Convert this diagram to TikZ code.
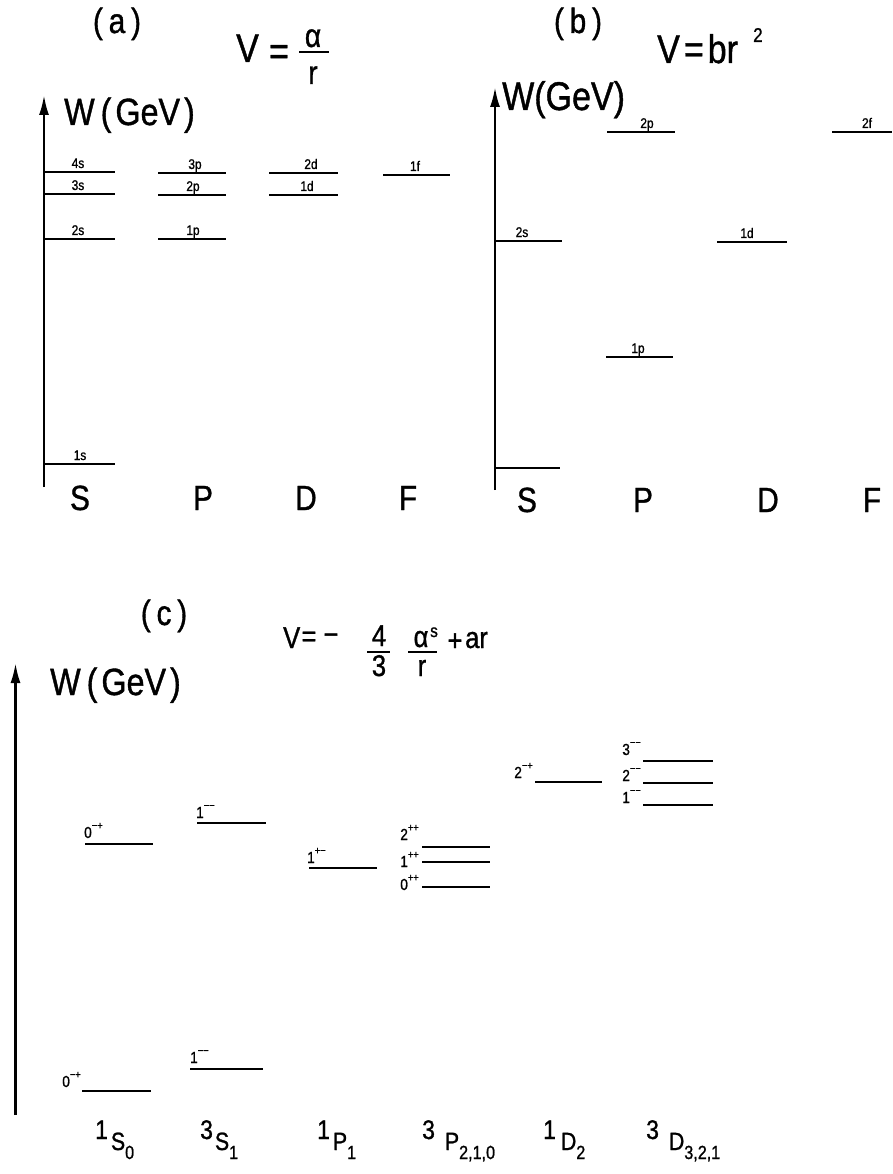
\documentclass[tikz,border=0pt]{standalone}
\usepackage{fontspec}
\setmainfont{Liberation Sans}[FakeStretch=0.85,FakeBold=1]
\usetikzlibrary{arrows.meta}
\newcommand\fsz[1]{\fontsize{#1}{#1}\selectfont}
% quantum-number label: digit with raised parity signs
\newcommand\qn[2]{#1\raisebox{0.55em}{\fsz{11}#2}}
% spectroscopic label: raised multiplicity, letter, lowered subscript
\newcommand\spec[4]{\raisebox{11pt}{\fsz{27}#1}\hspace{#4}{\fsz{25}#2}\raisebox{-9pt}{\fsz{19}#3}}
\newcommand\lev[6]{%
  \draw[level] (#2,#4) -- (#3,#4);
  \node[lab,anchor=base] (#1) at (#5,#4-4) {#6};}
\newcommand\levq[6]{%
  \draw[level] (#2,#4) -- (#3,#4);
  \node[qlab,#5] (#1) {#6};}
\begin{document}
\begin{tikzpicture}[x=1pt,y=-1pt,
  level/.style={line width=2.3pt},
  axis/.style={line width=2.5pt,-{Latex[length=20pt,width=10pt]}},
  lab/.style={inner sep=0pt,font=\fsz{14}},
  qlab/.style={inner sep=0pt,font=\fsz{16}},
  title/.style={inner sep=0pt,font=\fsz{35},anchor=base},
  wlab/.style={inner sep=0pt,font=\fsz{38},anchor=base west},
  form/.style={inner sep=0pt,font=\fsz{40}},
  formc/.style={inner sep=0pt,font=\fsz{30}},
  col/.style={inner sep=0pt,font=\fsz{35},anchor=base},
  bar/.style={line width=2pt}]
\useasboundingbox (0,0) rectangle (892,1174);

% ================= panel (a) =================
\node[title] (ta) at (117,33) {(\,a\,)};
\node[form,anchor=base west] (aV) at (236,62) {V};
\node[form,anchor=center] (aeq) at (279,55) {=};
\node[form,anchor=base,font=\fsz{33}] (aal) at (313,47) {α};
\coordinate (abarL) at (299,52); \coordinate (abarR) at (329,52);
\draw[bar] (abarL) -- (abarR);
\node[form,anchor=base,font=\fsz{33}] (ar) at (313,84) {r};
\coordinate (aaxB) at (44,487); \coordinate (aaxT) at (44,95);
\draw[axis] (aaxB) -- (aaxT);
\node[wlab] (aW) at (64,125) {W\hspace{6pt}(\hspace{4pt}GeV\hspace{4pt})};
\lev{a4s}{44}{115}{172}{78}{4s}
\lev{a3s}{44}{115}{194}{78}{3s}
\lev{a2s}{44}{115}{239}{78}{2s}
\lev{a1s}{44}{115}{464}{80}{1s}
\lev{a3p}{158}{226}{173}{195}{3p}
\lev{a2p}{158}{226}{195}{193}{2p}
\lev{a1p}{158}{226}{239}{193}{1p}
\lev{a2d}{269}{338}{173}{311}{2d}
\lev{a1d}{269}{338}{195}{307}{1d}
\lev{a1f}{383}{450}{175}{415}{1f}
\node[col] (aS) at (80,510) {S};
\node[col] (aP) at (203,510) {P};
\node[col] (aD) at (306,510) {D};
\node[col] (aF) at (408,510) {F};

% ================= panel (b) =================
\node[title] (tb) at (578,33) {(\,b\,)};
\node[form,anchor=base west] (bV) at (657,63) {V\hspace{4pt}=\hspace{4pt}br};
\node[inner sep=0pt,font=\fsz{20},anchor=base west] (b2) at (753,42) {2};
\coordinate (baxB) at (495,490); \coordinate (baxT) at (495,87);
\draw[axis] (baxB) -- (baxT);
\node[wlab,font=\fsz{40}] (bW) at (502,110) {W(GeV)};
\lev{b2p}{607}{675}{132}{647}{2p}
\lev{b2f}{832}{892}{132}{867}{2f}
\lev{b2s}{495}{562}{241}{522}{2s}
\lev{b1d}{717}{787}{242}{747}{1d}
\lev{b1p}{606}{673}{357}{638}{1p}
\coordinate (b1sL) at (495,468); \coordinate (b1sR) at (560,468);
\draw[level] (b1sL) -- (b1sR);
\node[col] (bS) at (527,512) {S};
\node[col] (bP) at (643,512) {P};
\node[col] (bD) at (768,512) {D};
\node[col] (bF) at (872,512) {F};

% ================= panel (c) =================
\node[title] (tc) at (164,625) {(\,c\,)};
\node[formc,anchor=base west] (cV) at (283,648) {V};
\node[formc,anchor=center] (ceq) at (309,639) {=};
\node[formc,anchor=center] (cmi) at (331,639) {−};
\node[formc,anchor=base] (c4) at (379,646) {4};
\coordinate (cb1L) at (367,652); \coordinate (cb1R) at (390,652);
\draw[bar] (cb1L) -- (cb1R);
\node[formc,anchor=base] (c3) at (379,676) {3};
\node[formc,anchor=base] (cal) at (421,647) {α};
\node[inner sep=0pt,font=\fsz{18},anchor=base west] (cs) at (430,637) {s};
\coordinate (cb2L) at (408,652); \coordinate (cb2R) at (437,652);
\draw[bar] (cb2L) -- (cb2R);
\node[formc,anchor=base] (cr) at (422,676) {r};
\node[formc,anchor=center] (cpl) at (455,642) {+};
\node[formc,anchor=base west] (car) at (465,648) {ar};
\coordinate (caxB) at (15.5,1115); \coordinate (caxT) at (15.5,663);
\draw[axis] (caxB) -- (caxT);
\node[wlab] (cW) at (50,695) {W\hspace{6pt}(\hspace{4pt}GeV\hspace{4pt})};

\levq{c0a}{85}{153}{844}{anchor=base west,at={(84,838)}}{\qn{0}{−+}}
\levq{c1a}{197}{266}{823}{anchor=base west,at={(196,818)}}{\qn{1}{−−}}
\levq{c1b}{309}{377}{868}{anchor=base west,at={(307,863)}}{\qn{1}{+−}}
\levq{c2p}{422}{490}{847}{anchor=base east,at={(419,840)}}{\qn{2}{++}}
\levq{c1p}{422}{490}{862}{anchor=base east,at={(419,867)}}{\qn{1}{++}}
\levq{c0p}{422}{490}{887}{anchor=base east,at={(419,890)}}{\qn{0}{++}}
\levq{c2m}{535}{602}{782}{anchor=base east,at={(533,778)}}{\qn{2}{−+}}
\levq{c3d}{643}{713}{761}{anchor=base east,at={(641,755)}}{\qn{3}{−−}}
\levq{c2d}{643}{713}{783}{anchor=base east,at={(641,781)}}{\qn{2}{−−}}
\levq{c1d}{643}{713}{805}{anchor=base east,at={(641,803)}}{\qn{1}{−−}}
\levq{c0l}{82}{151}{1091}{anchor=base east,at={(81,1087)}}{\qn{0}{−+}}
\levq{c1l}{190}{263}{1069}{anchor=base west,at={(190,1063)}}{\qn{1}{−−}}

\node[inner sep=0pt,anchor=base west] (l1) at (95,1150) {\spec{1}{S}{0}{3pt}};
\node[inner sep=0pt,anchor=base west] (l2) at (200,1150) {\spec{3}{S}{1}{2pt}};
\node[inner sep=0pt,anchor=base west] (l3) at (317,1150) {\spec{1}{P}{1}{3pt}};
\node[inner sep=0pt,anchor=base west] (l4) at (422,1150) {\spec{3}{P}{2,1,0}{10pt}};
\node[inner sep=0pt,anchor=base west] (l5) at (543,1150) {\spec{1}{D}{2}{5pt}};
\node[inner sep=0pt,anchor=base west] (l6) at (646,1150) {\spec{3}{D}{3,2,1}{10pt}};
\end{tikzpicture}
\end{document}
